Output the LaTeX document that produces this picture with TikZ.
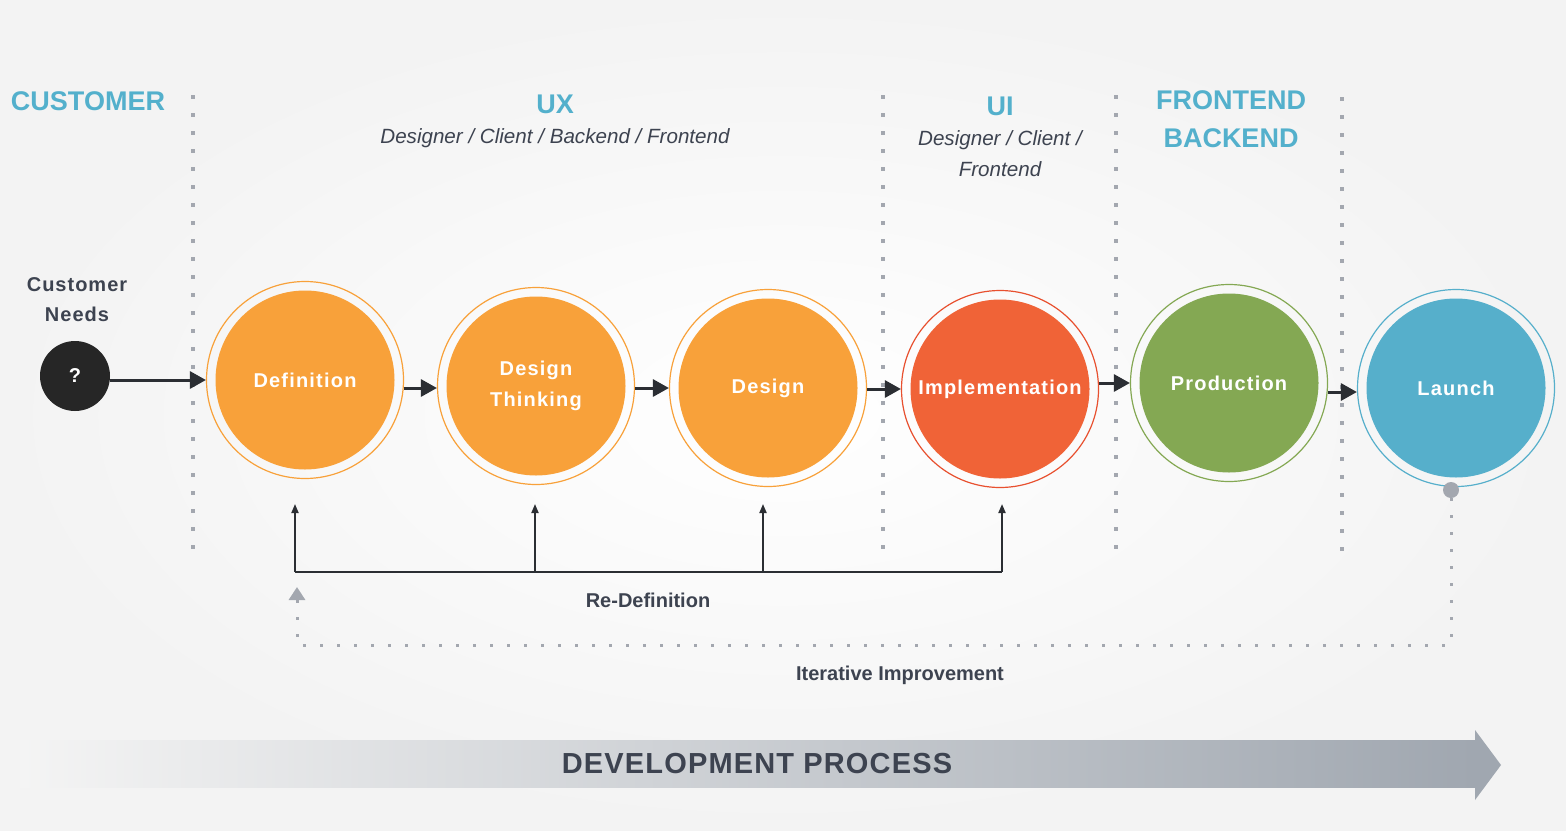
\documentclass[tikz,border=0pt]{standalone}
\usepackage{fontspec}
\setmainfont{Liberation Sans}
\newfontfamily\spacedfont[LetterSpace=6]{Liberation Sans}
\newfontfamily\lblfont[LetterSpace=5]{Liberation Sans}
\newfontfamily\bigspaced[LetterSpace=4]{Liberation Sans}
\usetikzlibrary{arrows.meta}
\definecolor{bgout}{HTML}{F3F3F3}
\definecolor{titleblue}{HTML}{53B0CC}
\definecolor{txtdark}{HTML}{3D4350}
\definecolor{dotc}{HTML}{A3A7AF}
\definecolor{arrc}{HTML}{2B2E33}
\definecolor{qblack}{HTML}{262626}
\definecolor{orangef}{HTML}{F8A13A}
\definecolor{redf}{HTML}{F06337}
\definecolor{redr}{HTML}{E8502F}
\definecolor{greenf}{HTML}{84A853}
\definecolor{bluef}{HTML}{56AFCB}
\definecolor{bandL}{HTML}{F4F4F4}
\definecolor{bandM}{HTML}{D3D6DA}
\definecolor{bandR}{HTML}{A0A7B0}
\begin{document}
\begin{tikzpicture}[x=0.5pt,y=-0.5pt,
  ring/.style={circle, draw=#1, line width=0.6pt, minimum size=98.5pt, inner sep=0pt},
  disc/.style={circle, fill=#1, minimum size=89.5pt, inner sep=0pt, text=white,
    font=\spacedfont\bfseries\fontsize{10}{15.5}\selectfont, align=center},
  title/.style={text=titleblue, font=\bfseries\fontsize{13.5}{19}\selectfont, align=center},
  subtitle/.style={text=txtdark, font=\itshape\fontsize{10.3}{15.5}\selectfont, align=center},
  lbl/.style={text=txtdark, font=\bfseries\fontsize{10}{15}\selectfont, align=center},
  sep/.style={draw=dotc, line width=2pt, dash pattern=on 2pt off 7pt},
  flow/.style={draw=arrc, line width=1.5pt, -{Triangle[length=8pt,width=8.5pt]}},
  fb/.style={draw=arrc, line width=0.9pt},
  fbarrow/.style={draw=arrc, line width=0.9pt, -{Triangle[length=4.5pt,width=3.5pt]}},
  iter/.style={draw=dotc, line width=1.5pt, dash pattern=on 1.5pt off 7pt, -{Triangle[length=6.5pt,width=8pt]}}
]
\useasboundingbox (0,0) rectangle (1566,830);
\shade[inner color=white, outer color=bgout] (0,0) rectangle (1566,830);

% separators
\draw[sep] (193,95) -- (193,562);
\draw[sep] (883,95) -- (883,562);
\draw[sep] (1116,95) -- (1116,562);
\draw[sep] (1342,97) -- (1342,564);

% titles
\node[title] (tcust) at (88,101) {CUSTOMER};
\node[title] (tux) at (555,104) {UX};
\node[subtitle] (sux) at (555,138) {Designer / Client / Backend / Frontend};
\node[title] (tui) at (1000,106) {UI};
\node[subtitle] (sui) at (1000,154) {Designer / Client /\\[0pt]Frontend};
\node[title] (tfe) at (1231,119) {FRONTEND\\BACKEND};

% customer needs
\node[lbl, font=\lblfont\bfseries\fontsize{10}{15}\selectfont] (cn) at (77,300) {Customer\\Needs};
\node[circle, fill=qblack, minimum size=35pt, inner sep=0pt, text=white,
  font=\bfseries\fontsize{10}{12}\selectfont] (q) at (75,376) {?};

% circles
\node[ring=orangef] (defO) at (305,380) {};
\node[disc=orangef] (def) at (305,380) {Definition};
\node[ring=orangef] (dtO) at (536,386) {};
\node[disc=orangef] (dt) at (536,386) {Design\\Thinking};
\node[ring=orangef] (desO) at (768,388) {};
\node[disc=orangef] (des) at (768,388) {Design};
\node[ring=redr] (impO) at (1000,389) {};
\node[disc=redf] (imp) at (1000,389) {Implementation};
\node[ring=greenf] (proO) at (1229,383) {};
\node[disc=greenf] (pro) at (1229,383) {Production};
\node[ring=bluef] (lauO) at (1456,388) {};
\node[disc=bluef] (lau) at (1456,388) {Launch};

% main flow arrows
\draw[flow] (q.east |- defO.west) -- (defO.west);
\draw[flow] ([yshift=-1pt]dtO.west -| defO.east) -- ([yshift=-1pt]dtO.west);
\draw[flow] (desO.west -| dtO.east) -- (desO.west);
\draw[flow] (impO.west -| desO.east) -- (impO.west);
\draw[flow] (proO.west -| impO.east) -- (proO.west);
\draw[flow] ([yshift=-2pt]lauO.west -| proO.east) -- ([yshift=-2pt]lauO.west);

% re-definition feedback
\coordinate (b1) at (295,572);
\coordinate (b2) at (535,572);
\coordinate (b3) at (763,572);
\coordinate (b4) at (1002,572);
\coordinate (t1) at (295,504);
\coordinate (t2) at (535,504);
\coordinate (t3) at (763,504);
\coordinate (t4) at (1002,504);
\draw[fb] (b1) -- (b4);
\draw[fbarrow] (b1) -- (t1);
\draw[fbarrow] (b2) -- (t2);
\draw[fbarrow] (b3) -- (t3);
\draw[fbarrow] (b4) -- (t4);
\node[lbl] (redef) at (648,600) {Re-Definition};

% iterative improvement
\node[circle, fill=dotc, minimum size=8pt, inner sep=0pt] (gd) at (1451,490) {};
\coordinate (i1) at (1451,645);
\coordinate (i2) at (297,645);
\coordinate (i3) at (297,587);
\draw[iter] (gd.south) -- (i1) -- (i2) -- (i3);
\node[lbl] (itimp) at (900,675) {Iterative Improvement};

% development process arrow
\shade[left color=bandL, middle color=bandM, right color=bandR]
  (20,740) -- (1475,740) -- (1475,787) -- (20,787) -- cycle;
\fill[bandR] (1475,730) -- (1501,765) -- (1475,800) -- cycle;
\node[text=txtdark, font=\bigspaced\bfseries\fontsize{14.5}{17}\selectfont] (dp) at (757,764) {DEVELOPMENT PROCESS};
\end{tikzpicture}
\end{document}
